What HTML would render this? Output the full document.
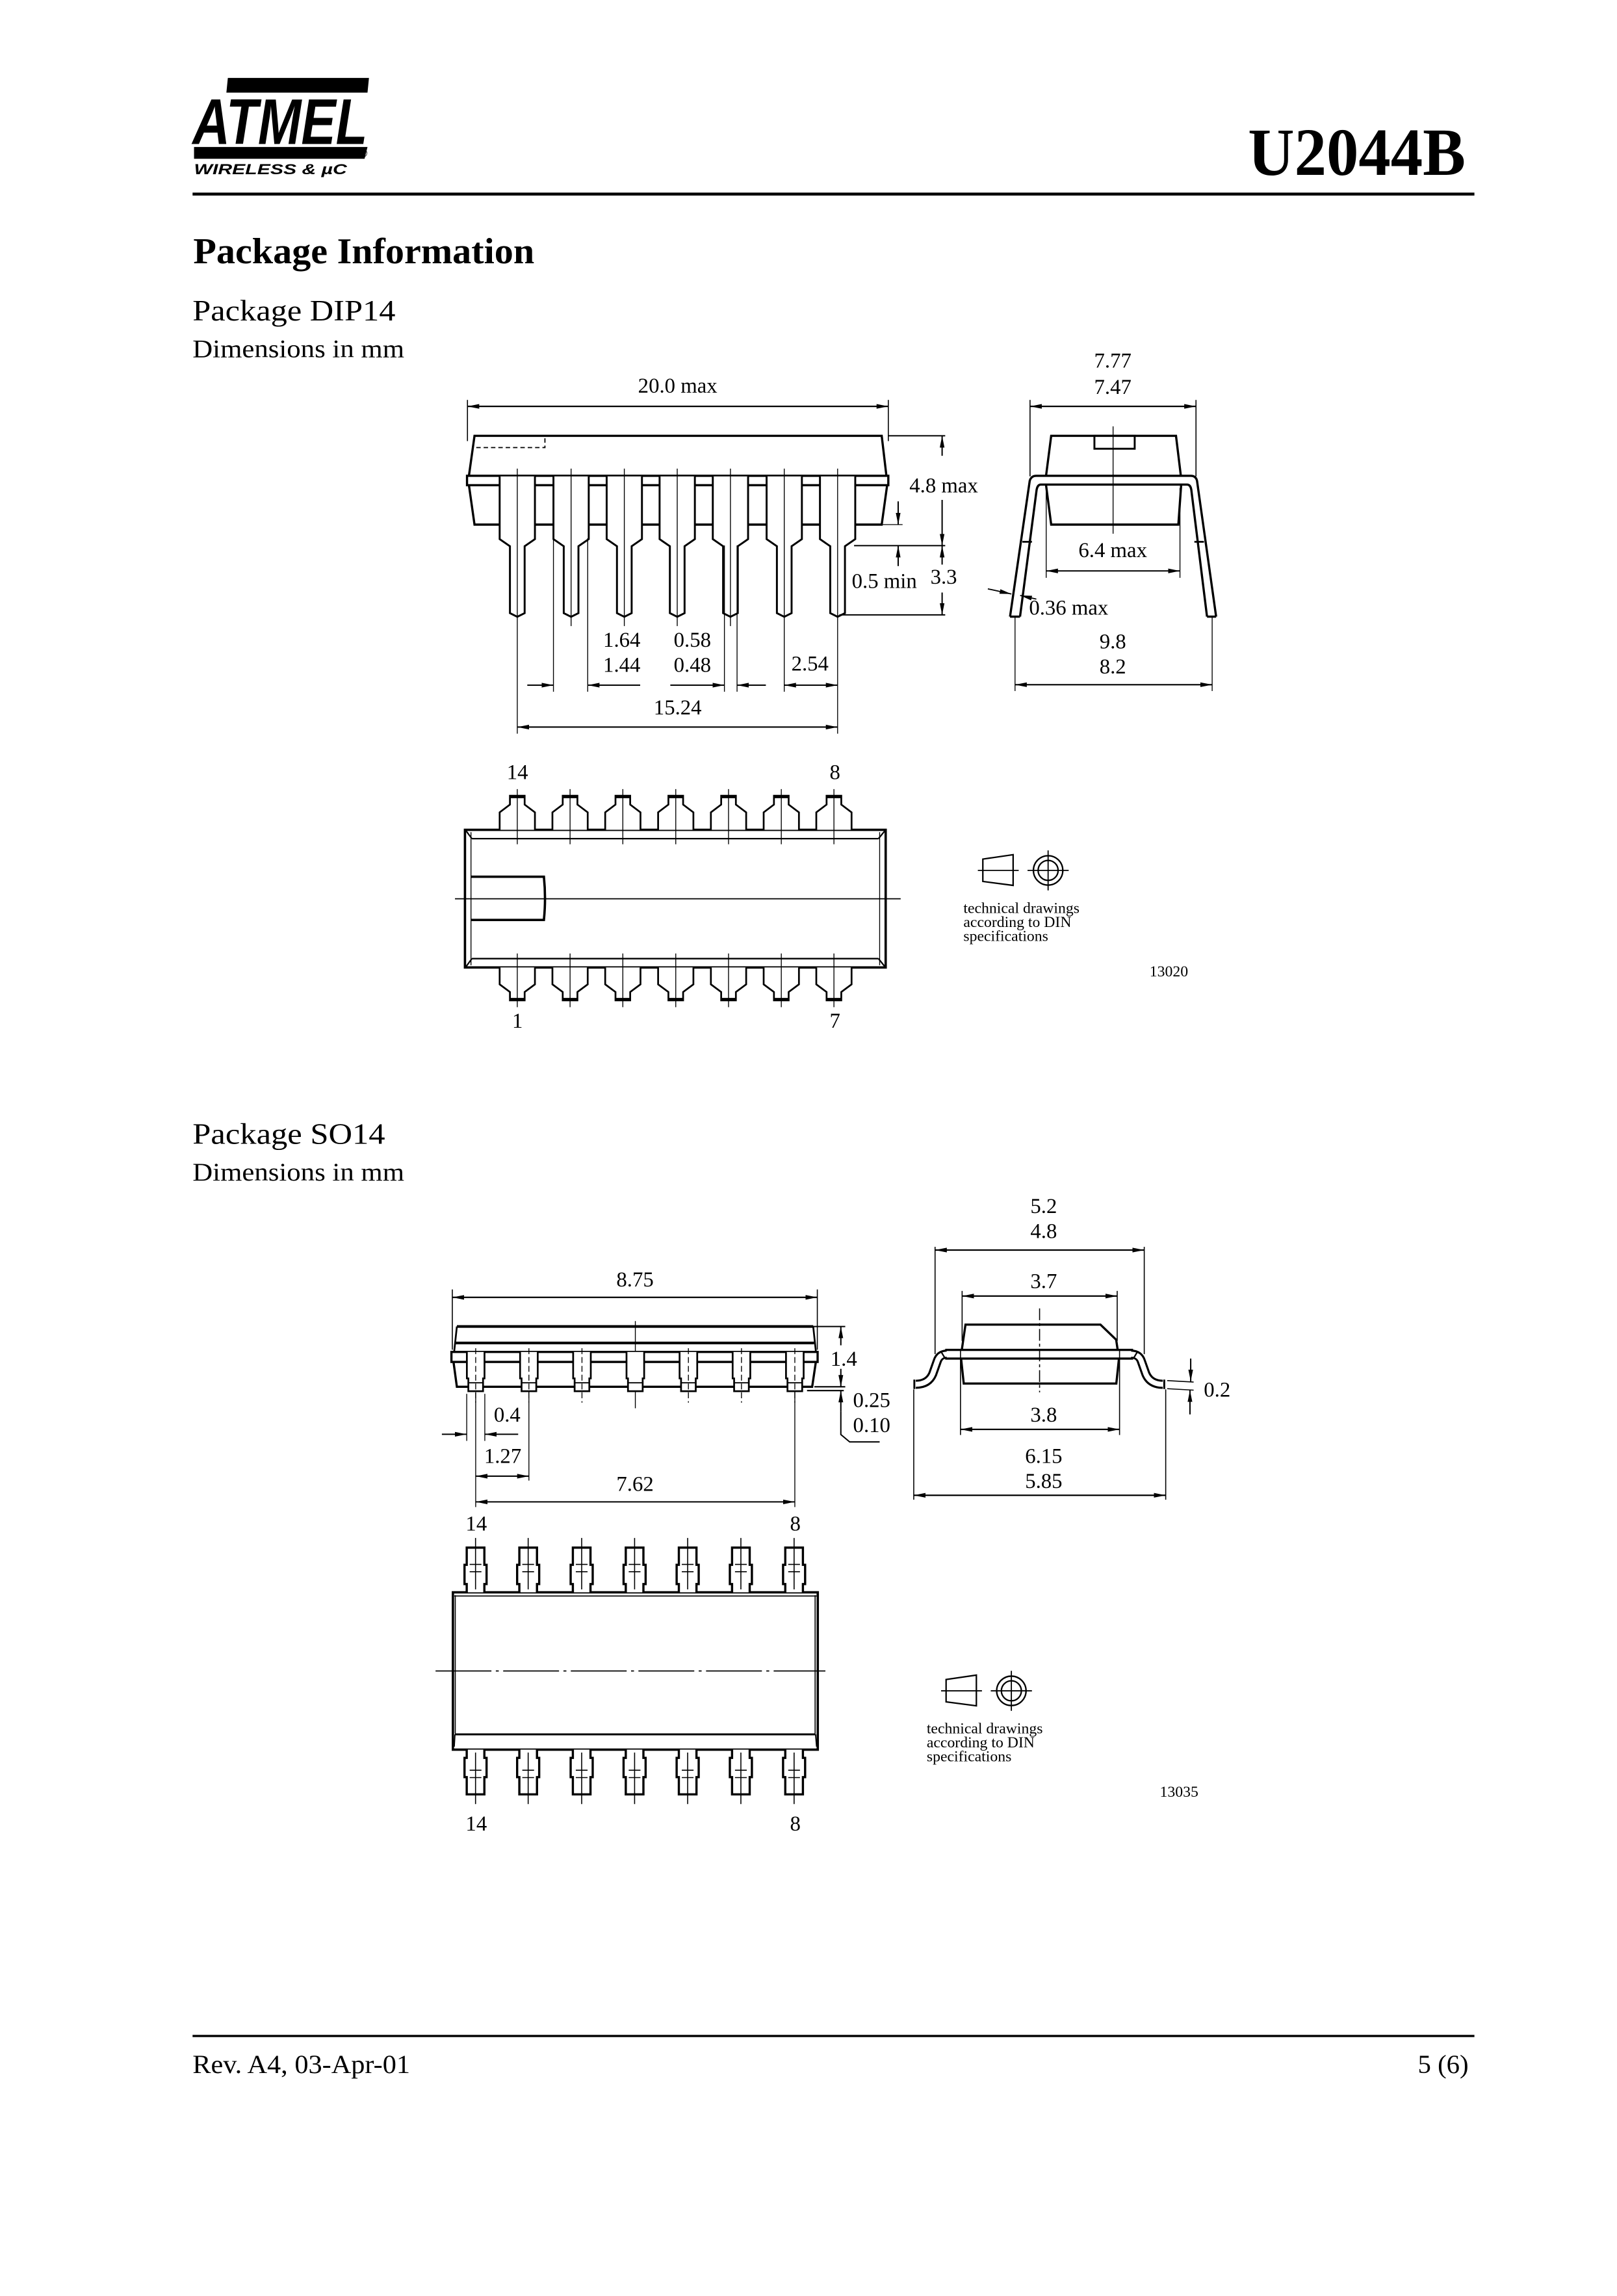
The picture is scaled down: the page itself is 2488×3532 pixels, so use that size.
<!DOCTYPE html>
<html><head><meta charset="utf-8">
<style>
html,body{margin:0;padding:0;background:#fff;}
svg{display:block;}
text{font-family:"Liberation Serif",serif;fill:#000;}
</style></head>
<body>
<svg width="2488" height="3532" viewBox="0 0 1100 1561.6" preserveAspectRatio="none" xmlns="http://www.w3.org/2000/svg">
<defs>
<marker id="a" viewBox="0 0 10 4" refX="10" refY="2" markerWidth="8" markerHeight="3.4" markerUnits="userSpaceOnUse" orient="auto-start-reverse"><path d="M0,0L10,2L0,4z" fill="#000"/></marker>
<g id="din">
 <path d="M668.6,584.3 L689.2,581.3 L689.2,602.2 L668.6,599.5 Z" fill="none" stroke="#000" stroke-width="1"/>
 <line x1="665.2" y1="592" x2="693" y2="592" stroke="#000" stroke-width="0.8"/>
 <circle cx="713" cy="592" r="10" fill="none" stroke="#000" stroke-width="1"/>
 <circle cx="713" cy="592" r="6.8" fill="none" stroke="#000" stroke-width="1"/>
 <line x1="699" y1="592" x2="727" y2="592" stroke="#000" stroke-width="0.8"/>
 <line x1="713" y1="578.4" x2="713" y2="605.6" stroke="#000" stroke-width="0.8"/>
 <text x="655.4" y="621" font-size="10.5">technical drawings</text>
 <text x="655.4" y="630.5" font-size="10.5">according to DIN</text>
 <text x="655.4" y="640" font-size="10.5">specifications</text>
</g>
</defs>

<!-- Header -->
<polygon points="155,53 251,53 250,63 154,63" fill="#000"/>
<text x="131" y="98" font-family="Liberation Sans" font-weight="bold" font-style="italic" font-size="44" textLength="119" lengthAdjust="spacingAndGlyphs" style="font-family:'Liberation Sans',sans-serif">ATMEL</text>
<polygon points="132,100 250,100 248,108 132,108" fill="#000"/>
<text x="244" y="107" font-size="8" style="font-family:'Liberation Sans',sans-serif">®</text>
<text x="132" y="118.5" font-size="10" font-weight="bold" font-style="italic" textLength="104" lengthAdjust="spacingAndGlyphs" style="font-family:'Liberation Sans',sans-serif">WIRELESS &amp; µC</text>
<text x="849" y="119" font-size="46" font-weight="bold" textLength="148" lengthAdjust="spacingAndGlyphs">U2044B</text>
<rect x="131" y="131" width="872" height="2" fill="#000"/>
<text x="131.5" y="179" font-size="25" font-weight="bold" textLength="232" lengthAdjust="spacingAndGlyphs">Package Information</text>
<text x="131" y="218" font-size="20" textLength="138" lengthAdjust="spacingAndGlyphs">Package DIP14</text>
<text x="131" y="243" font-size="17.5" textLength="144" lengthAdjust="spacingAndGlyphs">Dimensions in mm</text>

<!-- DIP side view -->
<g stroke="#000" fill="none">
 <line x1="318" y1="272" x2="318" y2="300" stroke-width="0.7"/>
 <line x1="604.3" y1="272" x2="604.3" y2="300" stroke-width="0.7"/>
 <line x1="318" y1="276.4" x2="604.3" y2="276.4" stroke-width="1" marker-start="url(#a)" marker-end="url(#a)"/>
 <path d="M319,323.6 L322.8,296.4 H599.8 L603,323.6" stroke-width="1.5"/>
 <rect x="317.7" y="323.6" width="286.6" height="6.4" stroke-width="1.5"/>
 <path d="M319,330 L322.8,356.8 H599.8 L603.5,330" stroke-width="1.5"/>
 <path d="M324,304.4 H370.7 V296.4" stroke-width="0.8" stroke-dasharray="3,2"/>
</g>
<g stroke="#000" fill="#fff" stroke-width="1.3">
 <path d="M339.9,324 V366.7 L346.9,371.5 V417 L351.9,419.5 L356.9,417 V371.5 L363.9,366.7 V324"/>
 <path d="M376.5,324 V366.7 L383.5,371.5 V417 L388.5,419.5 L393.5,417 V371.5 L400.5,366.7 V324"/>
 <path d="M412.7,324 V366.7 L419.7,371.5 V417 L424.7,419.5 L429.7,417 V371.5 L436.7,366.7 V324"/>
 <path d="M448.7,324 V366.7 L455.7,371.5 V417 L460.7,419.5 L465.7,417 V371.5 L472.7,366.7 V324"/>
 <path d="M484.9,324 V366.7 L491.9,371.5 V417 L496.9,419.5 L501.9,417 V371.5 L508.9,366.7 V324"/>
 <path d="M521.5,324 V366.7 L528.5,371.5 V417 L533.5,419.5 L538.5,417 V371.5 L545.5,366.7 V324"/>
 <path d="M557.8,324 V366.7 L564.8,371.5 V417 L569.8,419.5 L574.8,417 V371.5 L581.8,366.7 V324"/>
</g>
<g stroke="#000" stroke-width="0.6" fill="none">
 <line x1="351.9" y1="318.7" x2="351.9" y2="499"/>
 <line x1="388.5" y1="318.7" x2="388.5" y2="425.8"/>
 <line x1="424.7" y1="318.7" x2="424.7" y2="425.8"/>
 <line x1="460.7" y1="318.7" x2="460.7" y2="425.8"/>
 <line x1="496.9" y1="318.7" x2="496.9" y2="425.8"/>
 <line x1="533.5" y1="318.7" x2="533.5" y2="470.5"/>
 <line x1="569.8" y1="318.7" x2="569.8" y2="499"/>
 <line x1="376.5" y1="366" x2="376.5" y2="470.5"/>
 <line x1="399.8" y1="366" x2="399.8" y2="470.5"/>
 <line x1="492.8" y1="371" x2="492.8" y2="470.5"/>
 <line x1="501.4" y1="371" x2="501.4" y2="470.5"/>
 <!-- right dims -->
 <line x1="604" y1="296.4" x2="643" y2="296.4" stroke-width="0.9"/>
 <line x1="600" y1="356.8" x2="614" y2="356.8"/>
 <line x1="581" y1="371.1" x2="643" y2="371.1" stroke-width="0.9"/>
 <line x1="571" y1="418.2" x2="643" y2="418.2" stroke-width="0.9"/>
</g>
<g stroke="#000" stroke-width="0.9" fill="none">
 <line x1="640.9" y1="310" x2="640.9" y2="296.4" marker-end="url(#a)"/>
 <line x1="640.9" y1="340" x2="640.9" y2="371.1" marker-end="url(#a)"/>
 <line x1="640.9" y1="384" x2="640.9" y2="371.1" marker-end="url(#a)"/>
 <line x1="640.9" y1="403" x2="640.9" y2="418.2" marker-end="url(#a)"/>
 <line x1="611" y1="341" x2="611" y2="356.8" marker-end="url(#a)"/>
 <line x1="611" y1="385" x2="611" y2="371.1" marker-end="url(#a)"/>
 <line x1="358.7" y1="466" x2="376.5" y2="466" marker-end="url(#a)"/>
 <line x1="435.5" y1="466" x2="399.8" y2="466" marker-end="url(#a)"/>
 <line x1="456" y1="466" x2="492.8" y2="466" marker-end="url(#a)"/>
 <line x1="521" y1="466" x2="501.4" y2="466" marker-end="url(#a)"/>
 <line x1="533.5" y1="466" x2="569.8" y2="466" marker-start="url(#a)" marker-end="url(#a)"/>
 <line x1="351.9" y1="494.5" x2="569.8" y2="494.5" marker-start="url(#a)" marker-end="url(#a)"/>
</g>
<g font-size="14.5" text-anchor="middle">
 <text x="461" y="267">20.0 max</text>
 <text x="642" y="335">4.8 max</text>
 <text x="601.6" y="400">0.5 min</text>
 <text x="642" y="397">3.3</text>
 <text x="423" y="440">1.64</text><text x="423" y="457">1.44</text>
 <text x="471" y="440">0.58</text><text x="471" y="457">0.48</text>
 <text x="551" y="456">2.54</text>
 <text x="461" y="486">15.24</text>
</g>

<!-- DIP end view -->
<g stroke="#000" fill="none">
 <line x1="700.7" y1="272" x2="700.7" y2="324" stroke-width="0.7"/>
 <line x1="813.6" y1="272" x2="813.6" y2="324" stroke-width="0.7"/>
 <line x1="700.7" y1="276.4" x2="813.6" y2="276.4" stroke-width="1" marker-start="url(#a)" marker-end="url(#a)"/>
 <path d="M711.6,323.6 L715.1,296.4 H800 L803.3,323.6" stroke-width="1.5"/>
 <path d="M711.6,330 L715.1,356.8 H801.6 L803.5,330" stroke-width="1.5"/>
 <rect x="744.5" y="296.4" width="27.4" height="8.8" stroke-width="1.3"/>
 <path d="M687.1,419.4 L700.5,327 Q701.5,323.6 705,323.6 H810 Q813.5,323.6 814.3,327 L827.3,419.4" stroke-width="1.5"/>
 <path d="M693.9,419.4 L705.2,333 Q705.9,329.6 708,329.6 H807.5 Q809.8,329.6 810.4,333 L821.1,419.4" stroke-width="1.5"/>
 <line x1="687.1" y1="419.4" x2="693.9" y2="419.4" stroke-width="1.5"/>
 <line x1="821.1" y1="419.4" x2="827.3" y2="419.4" stroke-width="1.5"/>
 <line x1="695.5" y1="368.5" x2="702" y2="368.5" stroke-width="1.2"/>
 <line x1="812.5" y1="368.5" x2="819" y2="368.5" stroke-width="1.2"/>
 <line x1="757.2" y1="290" x2="757.2" y2="363" stroke-width="0.6"/>
 <line x1="711.7" y1="332" x2="711.7" y2="393" stroke-width="0.6"/>
 <line x1="802.7" y1="332" x2="802.7" y2="393" stroke-width="0.6"/>
 <line x1="711.7" y1="388.3" x2="802.7" y2="388.3" stroke-width="0.9" marker-start="url(#a)" marker-end="url(#a)"/>
 <line x1="672" y1="400.5" x2="688" y2="404" stroke-width="0.8" marker-end="url(#a)"/>
 <line x1="705" y1="407.5" x2="694" y2="405" stroke-width="0.8" marker-end="url(#a)"/>
 <line x1="690.5" y1="420" x2="690.5" y2="470" stroke-width="0.6"/>
 <line x1="824.6" y1="420" x2="824.6" y2="470" stroke-width="0.6"/>
 <line x1="690.5" y1="465.7" x2="824.6" y2="465.7" stroke-width="0.9" marker-start="url(#a)" marker-end="url(#a)"/>
</g>
<g font-size="14.5" text-anchor="middle">
 <text x="757" y="250">7.77</text><text x="757" y="268">7.47</text>
 <text x="757" y="379">6.4 max</text>
 <text x="727" y="418">0.36 max</text>
 <text x="757" y="441">9.8</text><text x="757" y="458">8.2</text>
</g>

<!-- DIP top view -->
<g stroke="#000" fill="none">
 <rect x="316.3" y="564.4" width="286.2" height="93.6" stroke-width="1.6"/>
 <path d="M320.4,566 V656.5 M598.4,566 V656.5" stroke-width="0.6"/>
 <path d="M321,570.4 H597.6 M321,652 H597.6 M317,565 L321,570.4 M602,565 L597.6,570.4 M317,657.5 L321,652 M602,657.5 L597.6,652" stroke-width="1"/>
 <path d="M320.4,596.3 H370 Q371.5,611 370,625.7 H320.4" stroke-width="1.6"/>
 <line x1="309.5" y1="611.3" x2="612.7" y2="611.3" stroke-width="0.8"/>
</g>
<g stroke="#000" fill="#fff" stroke-width="1.2">
 <path d="M339.9,564.4 V552.5 L346.9,547.2 V541.2 H356.9 V547.2 L363.9,552.5 V564.4"/>
 <path d="M375.8,564.4 V552.5 L382.8,547.2 V541.2 H392.8 V547.2 L399.8,552.5 V564.4"/>
 <path d="M411.7,564.4 V552.5 L418.7,547.2 V541.2 H428.7 V547.2 L435.7,552.5 V564.4"/>
 <path d="M447.7,564.4 V552.5 L454.7,547.2 V541.2 H464.7 V547.2 L471.7,552.5 V564.4"/>
 <path d="M483.6,564.4 V552.5 L490.6,547.2 V541.2 H500.6 V547.2 L507.6,552.5 V564.4"/>
 <path d="M519.5,564.4 V552.5 L526.5,547.2 V541.2 H536.5 V547.2 L543.5,552.5 V564.4"/>
 <path d="M555.3,564.4 V552.5 L562.3,547.2 V541.2 H572.3 V547.2 L579.3,552.5 V564.4"/>
 <path d="M339.9,658 V669.5 L346.9,674.7 V680.4 H356.9 V674.7 L363.9,669.5 V658"/>
 <path d="M375.8,658 V669.5 L382.8,674.7 V680.4 H392.8 V674.7 L399.8,669.5 V658"/>
 <path d="M411.7,658 V669.5 L418.7,674.7 V680.4 H428.7 V674.7 L435.7,669.5 V658"/>
 <path d="M447.7,658 V669.5 L454.7,674.7 V680.4 H464.7 V674.7 L471.7,669.5 V658"/>
 <path d="M483.6,658 V669.5 L490.6,674.7 V680.4 H500.6 V674.7 L507.6,669.5 V658"/>
 <path d="M519.5,658 V669.5 L526.5,674.7 V680.4 H536.5 V674.7 L543.5,669.5 V658"/>
 <path d="M555.3,658 V669.5 L562.3,674.7 V680.4 H572.3 V674.7 L579.3,669.5 V658"/>
</g>
<g stroke="#000" stroke-width="2.2">
 <path d="M346.9,541.8 H356.9 M382.8,541.8 H392.8 M418.7,541.8 H428.7 M454.7,541.8 H464.7 M490.6,541.8 H500.6 M526.5,541.8 H536.5 M562.3,541.8 H572.3"/>
 <path d="M346.9,679.8 H356.9 M382.8,679.8 H392.8 M418.7,679.8 H428.7 M454.7,679.8 H464.7 M490.6,679.8 H500.6 M526.5,679.8 H536.5 M562.3,679.8 H572.3"/>
</g>
<g stroke="#000" stroke-width="0.6">
 <path d="M351.9,536.7 V574.2 M387.8,536.7 V574.2 M423.7,536.7 V574.2 M459.7,536.7 V574.2 M495.6,536.7 V574.2 M531.5,536.7 V574.2 M567.3,536.7 V574.2"/>
 <path d="M351.9,648.5 V685 M387.8,648.5 V685 M423.7,648.5 V685 M459.7,648.5 V685 M495.6,648.5 V685 M531.5,648.5 V685 M567.3,648.5 V685"/>
</g>
<g font-size="14.5" text-anchor="middle">
 <text x="352" y="530">14</text><text x="568" y="530">8</text>
 <text x="352" y="699">1</text><text x="568" y="699">7</text>
</g>
<use href="#din"/>
<text x="782" y="664" font-size="10.5">13020</text>

<!-- SO14 headings -->
<text x="131" y="778" font-size="20" textLength="131" lengthAdjust="spacingAndGlyphs">Package SO14</text>
<text x="131" y="803" font-size="17.5" textLength="144" lengthAdjust="spacingAndGlyphs">Dimensions in mm</text>

<!-- SO side view -->
<g stroke="#000" fill="none">
 <line x1="307.7" y1="877" x2="307.7" y2="918" stroke-width="0.7"/>
 <line x1="556" y1="877" x2="556" y2="918" stroke-width="0.7"/>
 <line x1="307.7" y1="882.4" x2="556" y2="882.4" stroke-width="1" marker-start="url(#a)" marker-end="url(#a)"/>
 <line x1="310.8" y1="902.2" x2="553.2" y2="902.2" stroke-width="1.8"/>
 <line x1="309.8" y1="913.4" x2="553.8" y2="913.4" stroke-width="1.8"/>
 <path d="M309,919 L310.8,902.2 M553.2,902.2 L555,919" stroke-width="1.2"/>
 <rect x="307.1" y="919.5" width="249.1" height="6.8" stroke-width="1.5"/>
 <path d="M308.5,926.3 L310.8,943.2 H552.5 L555,926.3" stroke-width="1.5"/>
 <line x1="432.2" y1="898.5" x2="432.2" y2="957.8" stroke-width="0.6"/>
</g>
<g stroke="#000" fill="#fff" stroke-width="1.2">
 <path d="M317.6,919.5 V937.5 H318.6 V946.2 H328.6 V937.5 H329.6 V919.5"/>
 <path d="M353.8,919.5 V937.5 H354.8 V946.2 H364.8 V937.5 H365.8 V919.5"/>
 <path d="M389.9,919.5 V937.5 H390.9 V946.2 H400.9 V937.5 H401.9 V919.5"/>
 <path d="M426.2,919.5 V937.5 H427.2 V946.2 H437.2 V937.5 H438.2 V919.5"/>
 <path d="M462.3,919.5 V937.5 H463.3 V946.2 H473.3 V937.5 H474.3 V919.5"/>
 <path d="M498.4,919.5 V937.5 H499.4 V946.2 H509.4 V937.5 H510.4 V919.5"/>
 <path d="M534.7,919.5 V937.5 H535.7 V946.2 H545.7 V937.5 H546.7 V919.5"/>
</g>
<g stroke="#000" stroke-width="0.8" fill="none">
 <path d="M318.6,940.5 H328.6 M354.8,940.5 H364.8 M390.9,940.5 H400.9 M427.2,940.5 H437.2 M463.3,940.5 H473.3 M499.4,940.5 H509.4 M535.7,940.5 H545.7"/>
</g>
<g stroke="#000" stroke-width="0.6" fill="none" stroke-dasharray="4,2">
 <path d="M323.6,917 V954 M359.8,917 V954 M395.9,917 V954 M468.3,917 V954 M504.4,917 V954 M540.7,917 V954"/>
</g>
<g stroke="#000" stroke-width="0.6" fill="none">
 <line x1="323.6" y1="947" x2="323.6" y2="1025"/>
 <line x1="317.5" y1="948" x2="317.5" y2="980"/>
 <line x1="329.8" y1="948" x2="329.8" y2="980"/>
 <line x1="359.8" y1="946" x2="359.8" y2="1007"/>
 <line x1="540.7" y1="946" x2="540.7" y2="1025"/>
 <line x1="553" y1="902.2" x2="575" y2="902.2" stroke-width="0.9"/>
 <line x1="554" y1="943.2" x2="575" y2="943.2" stroke-width="0.9"/>
 <line x1="549" y1="945.8" x2="574" y2="945.8" stroke-width="0.9"/>
</g>
<g stroke="#000" stroke-width="0.9" fill="none">
 <line x1="572" y1="915" x2="572" y2="902.2" marker-end="url(#a)"/>
 <line x1="572" y1="931" x2="572" y2="943.2" marker-end="url(#a)"/>
 <path d="M572,960 V975.7 L578,980.7 H598.4"/>
 <line x1="572" y1="960" x2="572" y2="945.8" marker-end="url(#a)"/>
 <line x1="300.6" y1="975.5" x2="317.5" y2="975.5" marker-end="url(#a)"/>
 <line x1="352.5" y1="975.5" x2="329.8" y2="975.5" marker-end="url(#a)"/>
 <line x1="323.6" y1="1004" x2="359.8" y2="1004" marker-start="url(#a)" marker-end="url(#a)"/>
 <line x1="323.6" y1="1021.5" x2="540.7" y2="1021.5" marker-start="url(#a)" marker-end="url(#a)"/>
</g>
<g font-size="14.5" text-anchor="middle">
 <text x="432" y="875">8.75</text>
 <text x="574" y="929">1.4</text>
 <text x="593" y="957">0.25</text><text x="593" y="974">0.10</text>
 <text x="345" y="967">0.4</text>
 <text x="342" y="995">1.27</text>
 <text x="432" y="1014">7.62</text>
</g>

<!-- SO end view -->
<g stroke="#000" fill="none">
 <line x1="636.1" y1="848" x2="636.1" y2="921" stroke-width="0.7"/>
 <line x1="778.4" y1="848" x2="778.4" y2="921" stroke-width="0.7"/>
 <line x1="636.1" y1="850.2" x2="778.4" y2="850.2" stroke-width="1" marker-start="url(#a)" marker-end="url(#a)"/>
 <line x1="654.5" y1="878" x2="654.5" y2="912" stroke-width="0.7"/>
 <line x1="760" y1="878" x2="760" y2="912" stroke-width="0.7"/>
 <line x1="654.5" y1="881.5" x2="760" y2="881.5" stroke-width="1" marker-start="url(#a)" marker-end="url(#a)"/>
 <path d="M654.3,918 L656.8,900.9 H748.6 L759.3,911.2 L760.3,918" stroke-width="1.5"/>
 <path d="M653.8,924 L655.6,941 H759.4 L761.2,924" stroke-width="1.5"/>
 <path d="M643,918.1 H770.8 M643,924 H770.8" stroke-width="1.5"/>
 <path d="M653.4,918 V976 M761.6,918 V976" stroke-width="0.7"/>
 <line x1="707.2" y1="889.9" x2="707.2" y2="947" stroke-width="0.7" stroke-dasharray="8,2,2,2"/>
 <line x1="653.4" y1="972.2" x2="761.6" y2="972.2" stroke-width="1" marker-start="url(#a)" marker-end="url(#a)"/>
 <path d="M644,921 Q639,921 637.5,926 L634.5,934.5 Q631.5,941.5 623,941.5" stroke-width="6.2"/>
 <path d="M644.5,921 Q639,921 637.5,926 L634.5,934.5 Q631.5,941.5 622.8,941.5" stroke="#fff" stroke-width="3.4"/>
 <path d="M769.5,921 Q775,921 776.5,926 L779.5,934.5 Q782.5,941.5 791,941.5" stroke-width="6.2"/>
 <path d="M769,921 Q775,921 776.5,926 L779.5,934.5 Q782.5,941.5 791.2,941.5" stroke="#fff" stroke-width="3.4"/>
 <path d="M622,938.3 V944.7 M792,938.3 V944.7" stroke-width="1.3"/>
 <path d="M640,919 L643,924 M774,919 L771,924" stroke-width="1"/>
 <line x1="621.6" y1="945" x2="621.6" y2="1020" stroke-width="0.7"/>
 <line x1="793" y1="945" x2="793" y2="1020" stroke-width="0.7"/>
 <line x1="621.6" y1="1017" x2="793" y2="1017" stroke-width="1" marker-start="url(#a)" marker-end="url(#a)"/>
 <path d="M794,939 L812,940 M794,944.5 L812,945.5" stroke-width="0.7"/>
 <line x1="810" y1="924" x2="810" y2="939.5" stroke-width="0.9" marker-end="url(#a)"/>
 <line x1="809.5" y1="962" x2="809.5" y2="945.5" stroke-width="0.9" marker-end="url(#a)"/>
</g>
<g font-size="14.5" text-anchor="middle">
 <text x="710" y="825">5.2</text><text x="710" y="842">4.8</text>
 <text x="710" y="876">3.7</text>
 <text x="710" y="967">3.8</text>
 <text x="710" y="995">6.15</text><text x="710" y="1012">5.85</text>
 <text x="828" y="950">0.2</text>
</g>

<!-- SO top view -->
<g stroke="#000" fill="none">
 <rect x="308.1" y="1083" width="248.2" height="107" stroke-width="1.6"/>
 <line x1="309" y1="1085.5" x2="555.5" y2="1085.5" stroke-width="0.7"/>
 <line x1="309.7" y1="1085" x2="309.7" y2="1179" stroke-width="0.7"/>
 <line x1="554.5" y1="1085" x2="554.5" y2="1179" stroke-width="0.7"/>
 <path d="M309.5,1179.6 H554.8" stroke-width="1.3"/>
 <path d="M309.5,1179.6 L309,1188 M554.8,1179.6 L555.5,1188" stroke-width="0.8"/>
 <line x1="296.3" y1="1136.5" x2="561.5" y2="1136.5" stroke-width="0.8" stroke-dasharray="38,3,2,3"/>
</g>
<g stroke="#000" fill="#fff" stroke-width="1.5">
 <path d="M317.5,1083 V1077.4 H316 V1064.3 H317.5 V1052.6 H329.5 V1064.3 H331 V1077.4 H329.5 V1083"/>
 <path d="M353.3,1083 V1077.4 H351.8 V1064.3 H353.3 V1052.6 H365.3 V1064.3 H366.8 V1077.4 H365.3 V1083"/>
 <path d="M389.7,1083 V1077.4 H388.2 V1064.3 H389.7 V1052.6 H401.7 V1064.3 H403.2 V1077.4 H401.7 V1083"/>
 <path d="M425.7,1083 V1077.4 H424.2 V1064.3 H425.7 V1052.6 H437.7 V1064.3 H439.2 V1077.4 H437.7 V1083"/>
 <path d="M461.8,1083 V1077.4 H460.3 V1064.3 H461.8 V1052.6 H473.8 V1064.3 H475.3 V1077.4 H473.8 V1083"/>
 <path d="M498,1083 V1077.4 H496.5 V1064.3 H498 V1052.6 H510 V1064.3 H511.5 V1077.4 H510 V1083"/>
 <path d="M534.2,1083 V1077.4 H532.7 V1064.3 H534.2 V1052.6 H546.2 V1064.3 H547.7 V1077.4 H546.2 V1083"/>
 <path d="M317.5,1190 V1195.6 H316 V1208.7 H317.5 V1220.4 H329.5 V1208.7 H331 V1195.6 H329.5 V1190"/>
 <path d="M353.3,1190 V1195.6 H351.8 V1208.7 H353.3 V1220.4 H365.3 V1208.7 H366.8 V1195.6 H365.3 V1190"/>
 <path d="M389.7,1190 V1195.6 H388.2 V1208.7 H389.7 V1220.4 H401.7 V1208.7 H403.2 V1195.6 H401.7 V1190"/>
 <path d="M425.7,1190 V1195.6 H424.2 V1208.7 H425.7 V1220.4 H437.7 V1208.7 H439.2 V1195.6 H437.7 V1190"/>
 <path d="M461.8,1190 V1195.6 H460.3 V1208.7 H461.8 V1220.4 H473.8 V1208.7 H475.3 V1195.6 H473.8 V1190"/>
 <path d="M498,1190 V1195.6 H496.5 V1208.7 H498 V1220.4 H510 V1208.7 H511.5 V1195.6 H510 V1190"/>
 <path d="M534.2,1190 V1195.6 H532.7 V1208.7 H534.2 V1220.4 H546.2 V1208.7 H547.7 V1195.6 H546.2 V1190"/>
</g>
<g stroke="#000" stroke-width="0.7" fill="none">
 <path d="M323.5,1046 V1081 M359.3,1046 V1081 M395.7,1046 V1081 M431.7,1046 V1081 M467.8,1046 V1081 M504,1046 V1081 M540.2,1046 V1081"/>
 <path d="M323.5,1192 V1227 M359.3,1192 V1227 M395.7,1192 V1227 M431.7,1192 V1227 M467.8,1192 V1227 M504,1192 V1227 M540.2,1192 V1227"/>
 <path d="M319.5,1064 H327.5 M319.5,1069 H327.5 M355.3,1064 H363.3 M355.3,1069 H363.3 M391.7,1064 H399.7 M391.7,1069 H399.7 M427.7,1064 H435.7 M427.7,1069 H435.7 M463.8,1064 H471.8 M463.8,1069 H471.8 M500,1064 H508 M500,1069 H508 M536.2,1064 H544.2 M536.2,1069 H544.2"/>
 <path d="M319.5,1204 H327.5 M319.5,1209 H327.5 M355.3,1204 H363.3 M355.3,1209 H363.3 M391.7,1204 H399.7 M391.7,1209 H399.7 M427.7,1204 H435.7 M427.7,1209 H435.7 M463.8,1204 H471.8 M463.8,1209 H471.8 M500,1204 H508 M500,1209 H508 M536.2,1204 H544.2 M536.2,1209 H544.2"/>
</g>
<g font-size="14.5" text-anchor="middle">
 <text x="324" y="1041">14</text><text x="541" y="1041">8</text>
 <text x="324" y="1245">14</text><text x="541" y="1245">8</text>
</g>
<use href="#din" transform="translate(-25,558)"/>
<text x="789" y="1222" font-size="10.5">13035</text>

<!-- Footer -->
<rect x="131" y="1384" width="872" height="1.5" fill="#000"/>
<text x="131" y="1410" font-size="18" textLength="148" lengthAdjust="spacingAndGlyphs">Rev. A4, 03-Apr-01</text>
<text x="999" y="1410" font-size="18" text-anchor="end">5 (6)</text>
</svg>
</body></html>
